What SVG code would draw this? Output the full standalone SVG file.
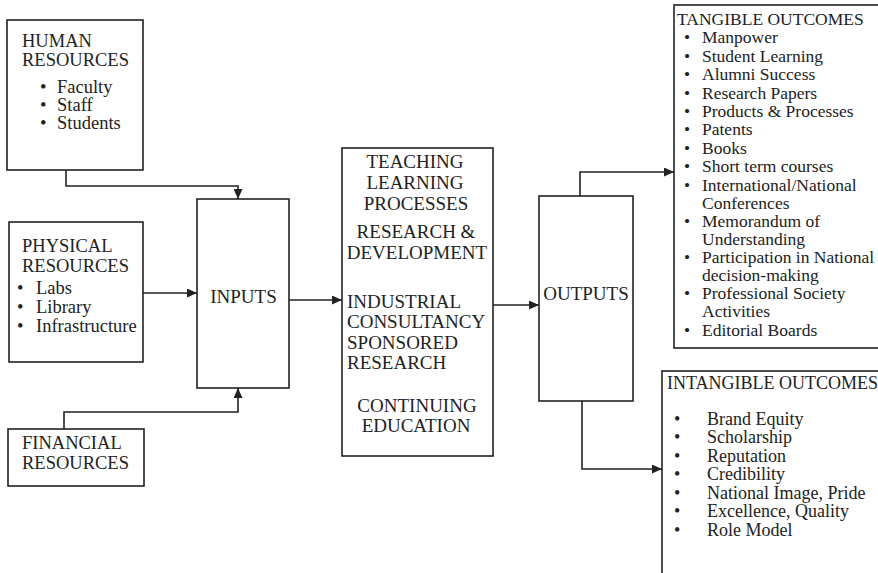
<svg xmlns="http://www.w3.org/2000/svg" width="878" height="573" viewBox="0 0 878 573">
  <style>
    .box { fill: #fff; stroke: #222; stroke-width: 1.6; }
    .wire { fill: none; stroke: #222; stroke-width: 1.6; marker-end: url(#head); }
    text { font-family: "Liberation Serif", "Times New Roman", serif; fill: #222; }
    .t18 { font-size: 18.5px; }
    .t19 { font-size: 19px; }
    .t17 { font-size: 17.5px; }
    .i18 { font-size: 18px; }
    .mid { text-anchor: middle; }
  </style>
  <defs>
    <marker id="head" markerUnits="userSpaceOnUse" markerWidth="10" markerHeight="9" refX="10" refY="4.5" orient="auto">
      <path d="M0,0 L10,4.5 L0,9 z" fill="#222"/>
    </marker>
  </defs>

  <rect x="0" y="0" width="878" height="573" fill="#fff"/>

  <!-- connectors -->
  <g id="connectors">
    <path class="wire" d="M66,170 V186 H238 V199"/>
    <path class="wire" d="M143,293 H197"/>
    <path class="wire" d="M64,429 V412 H238 V388"/>
    <path class="wire" d="M289,300 H342"/>
    <path class="wire" d="M493,305 H539"/>
    <path class="wire" d="M580,196 V172 H674"/>
    <path class="wire" d="M582,401 V469 H662"/>
  </g>

  <g id="human">
    <rect class="box" x="7" y="20" width="136" height="150"/>
    <text class="t18" x="22" y="47">HUMAN</text>
    <text class="t18" x="22" y="66">RESOURCES</text>
    <text class="t18" x="40" y="93">•</text><text class="t18" x="57" y="93">Faculty</text>
    <text class="t18" x="40" y="111">•</text><text class="t18" x="57" y="111">Staff</text>
    <text class="t18" x="40" y="129">•</text><text class="t18" x="57" y="129">Students</text>
  </g>

  <g id="physical">
    <rect class="box" x="9" y="222" width="134" height="140"/>
    <text class="t18" x="22" y="252">PHYSICAL</text>
    <text class="t18" x="22" y="272">RESOURCES</text>
    <text class="t18" x="17" y="294">•</text><text class="t18" x="36" y="294">Labs</text>
    <text class="t18" x="17" y="313">•</text><text class="t18" x="36" y="313">Library</text>
    <text class="t18" x="17" y="332">•</text><text class="t18" x="36" y="332">Infrastructure</text>
  </g>

  <g id="financial">
    <rect class="box" x="8" y="429" width="136" height="57"/>
    <text class="t18" x="22" y="449">FINANCIAL</text>
    <text class="t18" x="22" y="469">RESOURCES</text>
  </g>

  <g id="inputs">
    <rect class="box" x="197" y="199" width="92" height="189"/>
    <text class="t19 mid" x="243.5" y="303">INPUTS</text>
  </g>

  <g id="processes">
    <rect class="box" x="342" y="148" width="151" height="308"/>
    <text class="t19 mid" x="415" y="168">TEACHING</text>
    <text class="t19 mid" x="415" y="189">LEARNING</text>
    <text class="t19 mid" x="416" y="210">PROCESSES</text>
    <text class="t19 mid" x="416" y="238">RESEARCH &amp;</text>
    <text class="t19 mid" x="417" y="259">DEVELOPMENT</text>
    <text class="t19" x="347" y="308">INDUSTRIAL</text>
    <text class="t19" x="347" y="328">CONSULTANCY</text>
    <text class="t19" x="347" y="349">SPONSORED</text>
    <text class="t19" x="347" y="369">RESEARCH</text>
    <text class="t19 mid" x="417" y="412">CONTINUING</text>
    <text class="t19 mid" x="416" y="432">EDUCATION</text>
  </g>

  <g id="outputs">
    <rect class="box" x="539" y="196" width="94" height="205"/>
    <text class="t19 mid" x="586" y="300">OUTPUTS</text>
  </g>

  <g id="tangible">
    <rect class="box" x="674" y="5" width="220" height="343"/>
    <text class="t17" x="677" y="25">TANGIBLE OUTCOMES</text>
    <g class="t17">
      <text x="684" y="43">•</text><text x="702" y="43">Manpower</text>
      <text x="684" y="62">•</text><text x="702" y="62">Student Learning</text>
      <text x="684" y="80">•</text><text x="702" y="80">Alumni Success</text>
      <text x="684" y="99">•</text><text x="702" y="99">Research Papers</text>
      <text x="684" y="117">•</text><text x="702" y="117">Products &amp; Processes</text>
      <text x="684" y="135">•</text><text x="702" y="135">Patents</text>
      <text x="684" y="154">•</text><text x="702" y="154">Books</text>
      <text x="684" y="172">•</text><text x="702" y="172">Short term courses</text>
      <text x="684" y="191">•</text><text x="702" y="191">International/National</text>
      <text x="702" y="209">Conferences</text>
      <text x="684" y="227">•</text><text x="702" y="227">Memorandum of</text>
      <text x="702" y="245">Understanding</text>
      <text x="684" y="263">•</text><text x="702" y="263">Participation in National</text>
      <text x="702" y="281">decision-making</text>
      <text x="684" y="299">•</text><text x="702" y="299">Professional Society</text>
      <text x="702" y="317">Activities</text>
      <text x="684" y="336">•</text><text x="702" y="336">Editorial Boards</text>
    </g>
  </g>

  <g id="intangible">
    <rect class="box" x="662" y="371" width="230" height="220"/>
    <text class="i18" x="667" y="389">INTANGIBLE OUTCOMES</text>
    <g class="i18">
      <text x="674" y="425">•</text><text x="707" y="425">Brand Equity</text>
      <text x="674" y="443">•</text><text x="707" y="443">Scholarship</text>
      <text x="674" y="462">•</text><text x="707" y="462">Reputation</text>
      <text x="674" y="480">•</text><text x="707" y="480">Credibility</text>
      <text x="674" y="499">•</text><text x="707" y="499">National Image, Pride</text>
      <text x="674" y="517">•</text><text x="707" y="517">Excellence, Quality</text>
      <text x="674" y="536">•</text><text x="707" y="536">Role Model</text>
    </g>
  </g>
</svg>
